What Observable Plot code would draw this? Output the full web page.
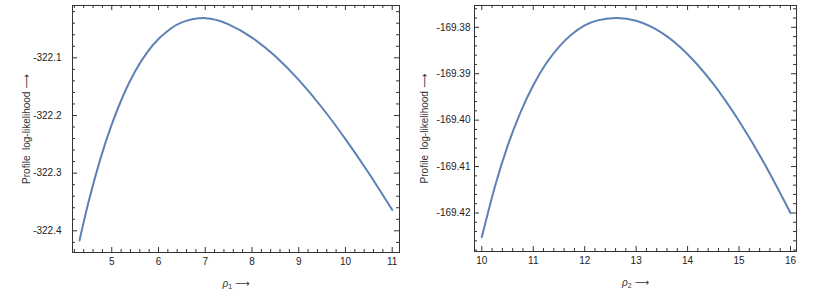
<!DOCTYPE html>
<html>
<head>
<meta charset="utf-8">
<script src="https://cdn.jsdelivr.net/npm/d3@7"></script>
<script src="https://cdn.jsdelivr.net/npm/@observablehq/plot@0.6"></script>
<style>
  html, body { margin: 0; padding: 0; background: #fff; }
  #wrap { display: flex; width: 832px; height: 295px; }
  svg text { font-family: "Liberation Sans", Arial, sans-serif; }
  tspan.arrow { font-family: "DejaVu Sans", sans-serif; }
</style>
</head>
<body>
<div id="wrap"></div>
<script>
// ---- data ----
const rho1 = [4.31, 4.5, 4.75, 5.0, 5.25, 5.5, 5.75, 6.0, 6.25, 6.5, 7.0, 7.5, 8.0, 8.5, 9.0, 9.5, 10.0, 10.5, 11.0];
const ll1  = [-322.4167, -322.3511, -322.2770, -322.2154, -322.1645, -322.1234, -322.0915, -322.0675, -322.0502, -322.0386, -322.0312, -322.0420, -322.0649, -322.0974, -322.1384, -322.1866, -322.2409, -322.3001, -322.3636];

const rho2 = [10.0, 10.25, 10.5, 10.75, 11.0, 11.25, 11.5, 11.75, 12.0, 12.25, 12.6, 13.0, 13.5, 14.0, 14.5, 15.0, 15.5, 16.0];
const ll2  = [-169.4252, -169.4145, -169.4056, -169.3984, -169.3925, -169.3878, -169.3842, -169.3815, -169.3796, -169.3785, -169.3780, -169.3786, -169.3812, -169.3858, -169.3922, -169.4002, -169.4095, -169.4200];

const xTicks1 = [5, 6, 7, 8, 9, 10, 11];
const yTicks1 = [-322.4, -322.3, -322.2, -322.1];
const xTicks2 = [10, 11, 12, 13, 14, 15, 16];
const yTicks2 = [-169.42, -169.41, -169.40, -169.39, -169.38];

const xLabel1 = "ρ1";
const xLabel2 = "ρ2";
const yLabel = "Profile  log-likelihood";
const arrow = "⟶";

const lineColor = "#5E81B5";
const frameColor = "#333";
const ns = "http://www.w3.org/2000/svg";
const fs = 10;

function minors(start, step, n, majors) {
  return d3.range(n).map(i => +(start + i * step).toFixed(6))
    .filter(v => !majors.some(m => Math.abs(m - v) < step / 10));
}

function tspan(text, attrs = {}) {
  const t = document.createElementNS(ns, "tspan");
  for (const k in attrs) t.setAttribute(k, attrs[k]);
  t.textContent = text;
  return t;
}

function panel({rho, ll, xDomain, yDomain, xTicks, yTicks, xMinor, yMinor, yFmt,
                width, marginLeft, marginRight, marginBottom, yPad, yLabelDx, xLabel}) {
  const height = 295, marginTop = 5;
  const H = height - marginTop - marginBottom;
  const W = width - marginLeft - marginRight;
  const data = rho.map((r, i) => ({r, v: ll[i]}));
  const major = 5, minor = 3;
  const tickStyle = {stroke: frameColor, strokeOpacity: 1, strokeWidth: 1};
  const svg = Plot.plot({
    width, height, marginTop, marginBottom, marginLeft, marginRight,
    style: {background: "#fff", fontSize: fs + "px"},
    x: {domain: xDomain},
    y: {domain: yDomain},
    marks: [
      // inward frame ticks (bottom, top, left, right)
      Plot.gridX(xTicks, {...tickStyle, insetTop: H - major}),
      Plot.gridX(xMinor, {...tickStyle, insetTop: H - minor}),
      Plot.gridX(xTicks, {...tickStyle, insetBottom: H - major}),
      Plot.gridX(xMinor, {...tickStyle, insetBottom: H - minor}),
      Plot.gridY(yTicks, {...tickStyle, insetRight: W - major}),
      Plot.gridY(yMinor, {...tickStyle, insetRight: W - minor}),
      Plot.gridY(yTicks, {...tickStyle, insetLeft: W - major}),
      Plot.gridY(yMinor, {...tickStyle, insetLeft: W - minor}),
      Plot.axisX({ticks: xTicks, anchor: "bottom", tickSize: 0, tickPadding: 5, label: null,
                  tickFormat: d => String(d), fill: "#222", fontSize: fs}),
      Plot.axisY({ticks: yTicks, anchor: "left", tickSize: 0, tickPadding: yPad, label: null,
                  tickFormat: yFmt, fill: "#222", fontSize: fs}),
      Plot.frame({stroke: frameColor, strokeWidth: 1}),
      Plot.line(data, {x: "r", y: "v", stroke: lineColor, strokeWidth: 2, curve: "natural"}),
      Plot.text([xLabel], {frameAnchor: "bottom", dy: 31, text: d => d, fill: "#333", fontSize: fs,
                           textAnchor: "middle", lineAnchor: "middle"}),
      Plot.text([yLabel], {frameAnchor: "left", dx: yLabelDx, rotate: -90, text: d => d, fill: "#333",
                           fontSize: fs, textAnchor: "middle", lineAnchor: "middle"})
    ]
  });
  // italic rho with subscript, and long arrows
  svg.querySelectorAll("text").forEach(t => {
    const s = t.textContent;
    if (s === xLabel) {
      t.textContent = "";
      t.append(
        tspan("ρ", {"font-style": "italic"}),
        tspan(s.slice(1), {"font-size": "7", "dy": "2.5"}),
        tspan(" " + arrow, {"dy": "-2.5", "class": "arrow"})
      );
    } else if (s === yLabel) {
      t.append(tspan(" " + arrow, {"class": "arrow"}));
    }
  });
  return svg;
}

const wrap = document.getElementById("wrap");
wrap.append(panel({
  rho: rho1, ll: ll1,
  xDomain: [4.16, 11.156], yDomain: [-322.4376, -322.0093],
  xTicks: xTicks1, yTicks: yTicks1,
  xMinor: minors(4.2, 0.2, 35, xTicks1),
  yMinor: minors(-322.42, 0.02, 21, yTicks1),
  yFmt: d => d.toFixed(1),
  width: 410, marginLeft: 72, marginRight: 11, marginBottom: 43, yPad: 11, yLabelDx: -46,
  xLabel: xLabel1
}));
wrap.append(panel({
  rho: rho2, ll: ll2,
  xDomain: [9.858, 16.117], yDomain: [-169.4283, -169.3753],
  xTicks: xTicks2, yTicks: yTicks2,
  xMinor: minors(10, 0.2, 31, xTicks2),
  yMinor: minors(-169.428, 0.002, 27, yTicks2),
  yFmt: d => d.toFixed(2),
  width: 422, marginLeft: 64, marginRight: 36, marginBottom: 44, yPad: 4, yLabelDx: -50,
  xLabel: xLabel2
}));
</script>
</body>
</html>
